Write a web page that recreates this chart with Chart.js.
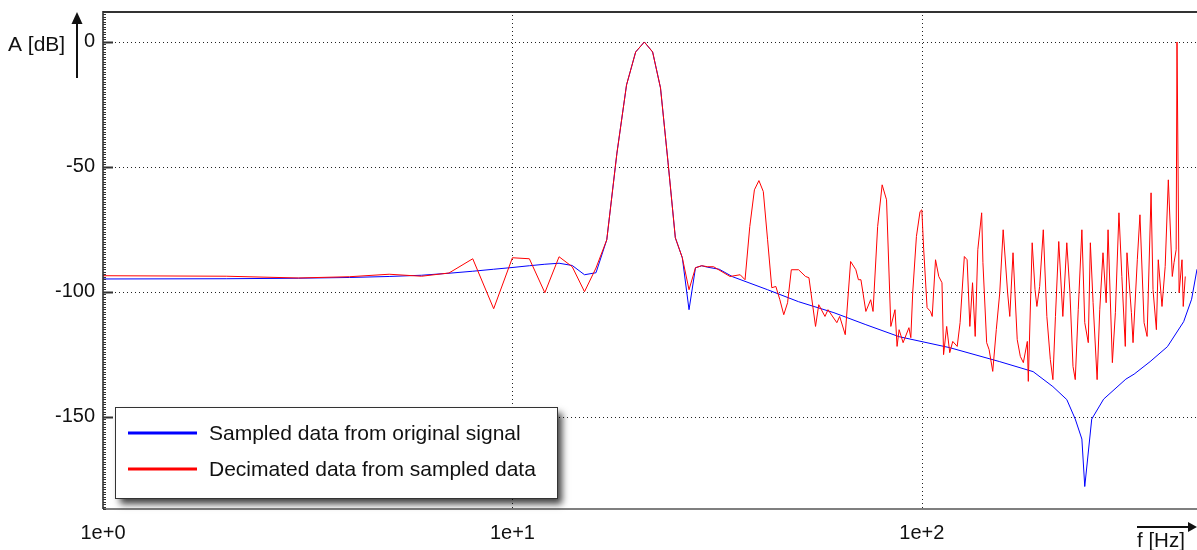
<!DOCTYPE html>
<html>
<head>
<meta charset="utf-8">
<script src="https://cdn.jsdelivr.net/npm/chart.js@4.4.1/dist/chart.umd.min.js"></script>
<style>
  html, body { margin: 0; padding: 0; background: #fff; }
  #wrap { position: relative; width: 1197px; height: 550px; }
</style>
</head>
<body>
<div id="wrap"><canvas id="spectrum"></canvas></div>
<script>
// --- dados ---
const seriesNames = ['Sampled data from original signal', 'Decimated data from sampled data'];
const seriesColors = ['#0000ff', '#ff0000'];

const freqBlue = [1, 2, 3, 4, 5, 6, 7, 8, 9, 10, 11, 12, 13, 14, 15, 16, 17, 18, 19, 20,
  21, 22, 23, 24, 25, 26, 27, 28, 29, 30, 32, 34.5, 42, 50, 61, 73, 88, 117, 155, 187,
  209, 226, 237, 246, 250, 260, 278, 315, 330, 361, 398, 436, 456, 470];
const dbBlue = [-94.9, -94.8, -94.6, -94.3, -93.9, -93.4, -92.6, -91.8, -91.0, -90.3, -89.6, -89.0, -88.6, -89.5, -93.2, -92.4, -79.2, -44.5, -17.2, -4,
  0, -4, -18.4, -48.4, -78.4, -86.4, -107.2, -90.4, -89.6, -90.2, -91.0, -94, -99.2, -104, -108.4, -113.2, -118, -122.4, -128, -132,
  -138, -143.2, -151, -159, -178, -151, -143, -135, -133, -128, -122, -112, -103, -91];

const freqRed = [1, 2, 3, 4, 5, 6, 7, 8, 9, 10, 11, 12, 13, 14, 15, 16, 17, 18, 19, 20,
  21, 22, 23, 24, 25, 26, 27, 28, 29, 30, 31, 34, 36, 37, 38, 39, 40, 41, 42, 43,
  44, 45, 46, 47, 48, 50, 52, 53, 55, 56, 58, 59, 62, 63, 65, 67, 69, 70, 71, 73,
  75, 76, 78, 80, 82, 84, 86, 87, 88, 90, 93, 94, 95, 97, 99, 100, 101, 103, 105, 106,
  108, 110, 112, 113, 115, 117, 119, 122, 124, 127, 129, 131, 133, 135, 137, 140, 141, 144, 146, 149,
  152, 155, 158, 162, 164, 167, 171, 174, 177, 181, 182, 186, 189, 191, 194, 198, 202, 206, 209, 212,
  216, 221, 226, 230, 234, 237, 241, 246, 250, 255, 258, 262, 268, 272, 277, 282, 285, 292, 297, 303,
  308, 314, 317, 325, 328, 336, 341, 349, 355, 363, 367, 374, 378, 386, 393, 400, 409, 413, 418, 420,
  425, 432, 435, 440];
const dbRed = [-93.6, -93.8, -94.5, -94.0, -93.0, -93.8, -92.5, -86.8, -106.8, -86.4, -86.8, -100.4, -86.0, -90.0, -100.0, -90.5, -79.2, -44.5, -17.2, -4,
  0, -4, -18.4, -48.4, -78.4, -86.4, -99.2, -90.4, -89.6, -90.0, -90.0, -93.9, -93.2, -95.2, -73.9, -59.2, -55.5, -59.9, -79.2, -98.4,
  -97.9, -103.2, -109.2, -104.4, -91.2, -91.2, -93.9, -94.4, -113.9, -105.2, -109.9, -107.2, -112.4, -109.9, -117.2, -87.9, -91.2, -95.2, -95.2, -107.9,
  -103.2, -107.9, -73.9, -57.2, -63.2, -113.9, -107.2, -121.9, -115.2, -120.4, -114.4, -118.4, -100.4, -77.9, -67.9, -67.2, -82.4, -106.4, -107.9, -109.9,
  -87.2, -93.9, -96.4, -125.2, -113.9, -124.4, -119.9, -121.9, -112.4, -85.9, -87.2, -113.9, -96.4, -117.9, -83.2, -68.4, -88.4, -120.4, -123.2, -131.9,
  -115.2, -100.4, -75.2, -100.4, -109.9, -84.4, -119.2, -125.9, -128.4, -119.9, -135.9, -80.4, -99.2, -105.9, -97.9, -75.2, -109.9, -127.2, -135.2, -109.9,
  -79.9, -109.9, -80.4, -100.4, -129.9, -135.2, -107.2, -75.2, -112.4, -120.4, -80.4, -104.4, -135.2, -107.2, -84.4, -104.4, -75.2, -128.4, -108.4, -68.4,
  -93.9, -121.9, -84.4, -108.4, -120.4, -87.2, -69.2, -112.4, -117.9, -60.4, -99.2, -115.2, -87.2, -105.9, -89.9, -55.2, -93.9, -88.4, -83.2, 0,
  -100.4, -87.2, -105.9, -93.9];

const xTicks = [1, 10, 100];
const xTickLabels = ['1e+0', '1e+1', '1e+2'];
const yTicks = [0, -50, -100, -150];
const xMin = 1, xMax = 470, yMin = -187, yMax = 12.4;

const FONT = '"Liberation Sans", Arial, sans-serif';

function toPoints(xs, ys) {
  return xs.map((x, i) => ({ x: x, y: ys[i] }));
}

// desenha grade pontilhada, moldura, setas e legenda
const decorPlugin = {
  id: 'decor',
  beforeDatasetsDraw(chart) {
    const ctx = chart.ctx;
    const a = chart.chartArea;
    const xs = chart.scales.x, ys = chart.scales.y;
    ctx.save();
    ctx.strokeStyle = '#222';
    ctx.lineWidth = 1;
    ctx.setLineDash([1, 3]);
    yTicks.forEach(v => {
      const py = Math.round(ys.getPixelForValue(v)) + 0.5;
      ctx.beginPath();
      ctx.moveTo(a.left, py);
      ctx.lineTo(a.right, py);
      ctx.stroke();
    });
    xTicks.slice(1).forEach(v => {
      const px = Math.round(xs.getPixelForValue(v)) + 0.5;
      ctx.beginPath();
      ctx.moveTo(px, a.top);
      ctx.lineTo(px, a.bottom);
      ctx.stroke();
    });
    ctx.restore();
  },
  afterDatasetsDraw(chart) {
    const ctx = chart.ctx;
    const a = chart.chartArea;
    const ys = chart.scales.y;
    ctx.save();
    ctx.setLineDash([]);

    // moldura
    ctx.strokeStyle = '#333';
    ctx.lineWidth = 2;
    ctx.beginPath();
    ctx.moveTo(a.left, a.top + 1);
    ctx.lineTo(a.right, a.top + 1);
    ctx.stroke();
    ctx.lineWidth = 1.5;
    ctx.strokeStyle = '#555';
    ctx.beginPath();
    ctx.moveTo(a.left, a.bottom);
    ctx.lineTo(a.right, a.bottom);
    ctx.stroke();
    ctx.strokeStyle = '#222';
    ctx.lineWidth = 1.5;
    ctx.beginPath();
    ctx.moveTo(a.left, a.top);
    ctx.lineTo(a.left, a.bottom);
    ctx.stroke();

    // marcas do eixo y (menores a cada 1 dB)
    ctx.strokeStyle = '#333';
    for (let v = Math.ceil(yMin); v <= Math.floor(yMax); v++) {
      const py = Math.round(ys.getPixelForValue(v)) + 0.5;
      const len = (v % 50 === 0) ? 10 : 3;
      ctx.lineWidth = (v % 50 === 0) ? 2 : 1;
      ctx.beginPath();
      ctx.moveTo(a.left, py);
      ctx.lineTo(a.left + len, py);
      ctx.stroke();
    }

    // títulos dos eixos com setas
    ctx.fillStyle = '#111';
    ctx.strokeStyle = '#111';
    ctx.font = '21px ' + FONT;
    ctx.textBaseline = 'middle';
    ctx.textAlign = 'left';
    ctx.fillText('A [dB]', 8, 45);
    ctx.lineWidth = 2;
    ctx.beginPath();
    ctx.moveTo(77, 78);
    ctx.lineTo(77, 20);
    ctx.stroke();
    ctx.beginPath();
    ctx.moveTo(77, 12);
    ctx.lineTo(71.5, 24);
    ctx.lineTo(82.5, 24);
    ctx.closePath();
    ctx.fill();

    ctx.font = '20.5px ' + FONT;
    ctx.fillText('f [Hz]', 1137, 541);
    ctx.beginPath();
    ctx.moveTo(1137, 527);
    ctx.lineTo(1190, 527);
    ctx.stroke();
    ctx.beginPath();
    ctx.moveTo(1197, 527);
    ctx.lineTo(1188, 522);
    ctx.lineTo(1188, 532);
    ctx.closePath();
    ctx.fill();

    // legenda
    const lx = 115, ly = 407, lw = 442, lh = 91;
    ctx.save();
    ctx.shadowColor = 'rgba(0,0,0,0.75)';
    ctx.shadowBlur = 7;
    ctx.shadowOffsetX = 5;
    ctx.shadowOffsetY = 6;
    ctx.fillStyle = '#fff';
    ctx.fillRect(lx, ly, lw, lh);
    ctx.restore();
    ctx.strokeStyle = '#333';
    ctx.lineWidth = 1;
    ctx.strokeRect(lx + 0.5, ly + 0.5, lw, lh);
    seriesNames.forEach((name, i) => {
      const cy = ly + 26 + i * 36;
      ctx.strokeStyle = seriesColors[i];
      ctx.lineWidth = 3;
      ctx.beginPath();
      ctx.moveTo(128, cy);
      ctx.lineTo(197, cy);
      ctx.stroke();
      ctx.fillStyle = '#111';
      ctx.font = '21px ' + FONT;
      ctx.textAlign = 'left';
      ctx.textBaseline = 'middle';
      ctx.fillText(name, 209, cy + 1);
    });
    ctx.restore();
  }
};

const ctx = document.getElementById('spectrum').getContext('2d');
new Chart(ctx, {
  type: 'line',
  data: {
    datasets: [
      {
        label: seriesNames[0],
        data: toPoints(freqBlue, dbBlue),
        borderColor: seriesColors[0],
        borderWidth: 1,
        pointRadius: 0,
        tension: 0,
        order: 2
      },
      {
        label: seriesNames[1],
        data: toPoints(freqRed, dbRed),
        borderColor: seriesColors[1],
        borderWidth: 1,
        pointRadius: 0,
        tension: 0,
        order: 1
      }
    ]
  },
  options: {
    responsive: true,
    maintainAspectRatio: false,
    animation: false,
    layout: { padding: { top: 11, right: 0, left: 0, bottom: 0 } },
    plugins: {
      legend: { display: false },
      tooltip: { enabled: false }
    },
    scales: {
      x: {
        type: 'logarithmic',
        min: xMin,
        max: xMax,
        grid: { display: false, drawTicks: false },
        border: { display: false },
        afterBuildTicks: scale => { scale.ticks = xTicks.map(v => ({ value: v })); },
        afterFit: scale => {
          scale.height = 41;
          scale.paddingLeft = 0;
          scale.paddingRight = 0;
        },
        ticks: {
          autoSkip: false,
          maxRotation: 0,
          padding: 12,
          color: '#111',
          font: { family: FONT, size: 20 },
          callback: value => {
            const i = xTicks.indexOf(value);
            return i >= 0 ? xTickLabels[i] : '';
          }
        }
      },
      y: {
        min: yMin,
        max: yMax,
        grid: { display: false, drawTicks: false },
        border: { display: false },
        afterBuildTicks: scale => { scale.ticks = yTicks.map(v => ({ value: v })); },
        afterFit: scale => {
          scale.width = 103;
          scale.paddingTop = 0;
          scale.paddingBottom = 0;
        },
        ticks: {
          padding: 8,
          color: '#111',
          font: { family: FONT, size: 20 }
        }
      }
    }
  },
  plugins: [decorPlugin]
});
</script>
</body>
</html>
